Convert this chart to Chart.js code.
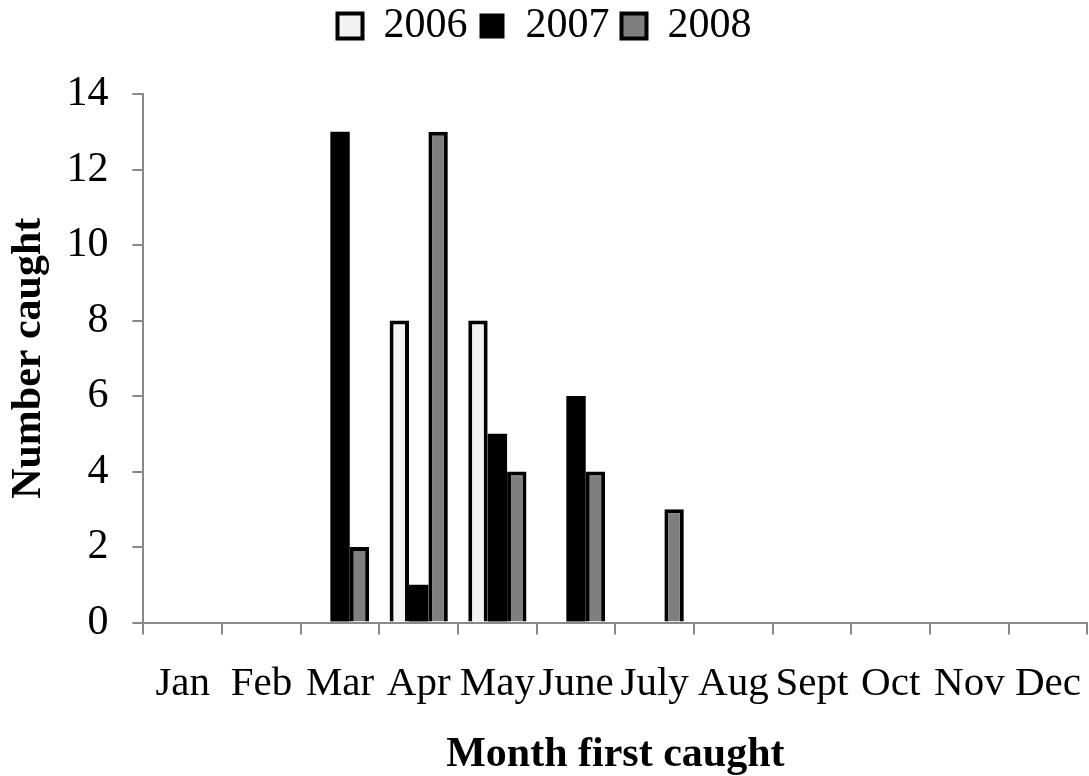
<!DOCTYPE html>
<html>
<head>
<meta charset="utf-8">
<script src="https://cdn.jsdelivr.net/npm/chart.js@4.4.1/dist/chart.umd.min.js"></script>
<style>
  html, body { margin: 0; padding: 0; background: #fff; }
  #wrap { width: 1089px; height: 776px; }
</style>
</head>
<body>
<div id="wrap"><canvas id="monthChart" width="1089" height="776"></canvas></div>
<script>
// --- data ---
const months = ['Jan', 'Feb', 'Mar', 'Apr', 'May', 'June', 'July', 'Aug', 'Sept', 'Oct', 'Nov', 'Dec'];
const caught2006 = [0, 0, 0, 8, 8, 0, 0, 0, 0, 0, 0, 0];
const caught2007 = [0, 0, 13, 1, 5, 6, 0, 0, 0, 0, 0, 0];
const caught2008 = [0, 0, 2, 13, 4, 4, 3, 0, 0, 0, 0, 0];
const yTicks = [0, 2, 4, 6, 8, 10, 12, 14];

const serif = "'Liberation Serif', 'Times New Roman', serif";
const axisGray = '#898989';

Chart.defaults.font.family = serif;
Chart.defaults.color = '#000';

// extra room under the legend
const legendGap = {
    id: 'legendGap',
    beforeLayout(chart) {
        const lg = chart.legend;
        if (lg && !lg._gapPatched) {
            const fit = lg.fit;
            lg.fit = function () { fit.call(this); this.height += 37; };
            lg._gapPatched = true;
        }
    }
};

const ctx = document.getElementById('monthChart').getContext('2d');
new Chart(ctx, {
    type: 'bar',
    data: {
        labels: months,
        datasets: [
            { label: '2006', data: caught2006, backgroundColor: '#f2f2f2', borderColor: '#000', borderWidth: 4 },
            { label: '2007', data: caught2007, backgroundColor: '#000', borderColor: '#000', borderWidth: 0 }, // solid black, no seam
            { label: '2008', data: caught2008, backgroundColor: '#7f7f7f', borderColor: '#000', borderWidth: 4 }
        ]
    },
    plugins: [legendGap],
    options: {
        responsive: false,
        animation: false,
        datasets: { bar: { barPercentage: 1.0, categoryPercentage: 0.74, borderSkipped: 'bottom' } },
        layout: { padding: { left: 0, right: 0, top: -7, bottom: 0 } },
        plugins: {
            tooltip: { enabled: false },
            legend: {
                position: 'top',
                labels: {
                    font: { size: 42, family: serif },
                    color: '#000',
                    boxWidth: 25,
                    boxHeight: 25,
                    padding: 12
                }
            }
        },
        scales: {
            x: {
                grid: { drawOnChartArea: false, color: axisGray, tickLength: 12, lineWidth: 2, offset: true },
                border: { color: axisGray, width: 2 },
                ticks: {
                    font: { size: 41, family: serif, lineHeight: 2.05 },
                    color: '#000',
                    padding: 8,
                    autoSkip: false,
                    maxRotation: 0,
                    minRotation: 0
                },
                title: {
                    display: true,
                    text: 'Month first caught',
                    font: { size: 42, weight: 'bold', family: serif },
                    color: '#000',
                    padding: { top: -5, bottom: -4 }
                }
            },
            y: {
                min: 0,
                max: 14,
                afterBuildTicks: (axis) => { axis.ticks = yTicks.map(v => ({ value: v })); },
                grid: { drawOnChartArea: false, color: axisGray, tickLength: 11, lineWidth: 2 },
                border: { color: axisGray, width: 2 },
                ticks: {
                    font: { size: 42, family: serif },
                    color: '#000',
                    padding: 24
                },
                title: {
                    display: true,
                    text: 'Number caught',
                    font: { size: 42, weight: 'bold', family: serif },
                    color: '#000',
                    padding: { top: 4, bottom: -12 }
                }
            }
        }
    }
});
</script>
</body>
</html>
